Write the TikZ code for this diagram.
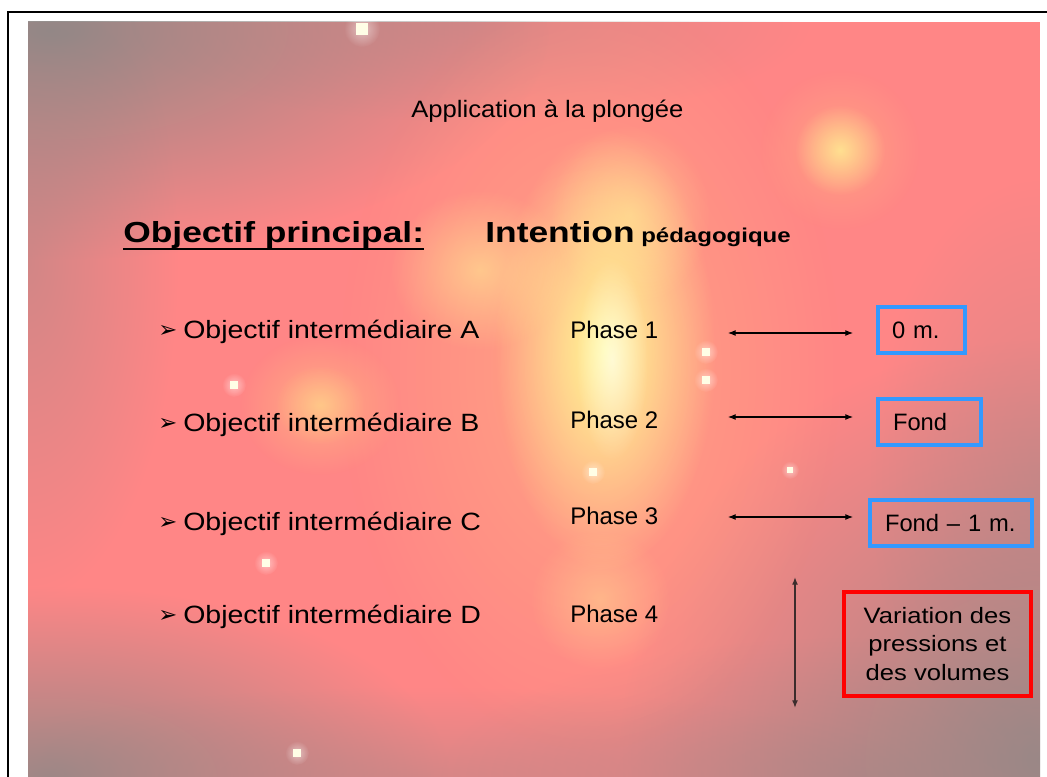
\documentclass[tikz,border=0pt]{standalone}
\usepackage{fontspec}
\setmainfont{Liberation Sans}
\newfontfamily\dejavu{DejaVu Sans}
\usetikzlibrary{arrows.meta,fadings,calc}
\tikzfading[name=glow, inner color=transparent!0, outer color=transparent!100]
\definecolor{bgpink}{RGB}{255,134,134}
\definecolor{bggray}{RGB}{142,136,134}
\definecolor{halo}{RGB}{255,188,128}
\definecolor{sun}{RGB}{255,250,150}
\definecolor{boxblue}{RGB}{51,153,255}
\definecolor{arrowgray}{RGB}{60,45,45}
\begin{document}
\begin{tikzpicture}[x=0.75pt,y=-0.75pt,
  lbl/.style={inner sep=0pt, anchor=base west, text=black},
  ttltxt/.style={lbl, font=\fontsize{17.8}{21}\selectfont, xscale=1.08},
  headtxt/.style={lbl, font=\bfseries\fontsize{21.75}{26}\selectfont, xscale=1.22},
  subheadtxt/.style={lbl, font=\bfseries\fontsize{15}{18}\selectfont, xscale=1.2},
  itemtxt/.style={lbl, font=\fontsize{18.75}{22}\selectfont, xscale=1.14},
  phasetxt/.style={lbl, font=\fontsize{18}{22}\selectfont},
  bul/.style={inner sep=0pt, anchor=base west, font=\dejavu\fontsize{17}{20}\selectfont},
  twoway/.style={{Latex[length=5.8pt,width=4.5pt]}-{Latex[length=5.8pt,width=4.5pt]}, line width=0.8pt},
  bluebox/.style={draw=boxblue, line width=3pt, inner ysep=0pt, align=left, minimum height=34.5pt, font=\fontsize{17.8}{21}\selectfont, anchor=center},
  redbox/.style={draw=red, line width=2.6pt, align=center, inner sep=0pt, font=\fontsize{16.7}{21.4}\selectfont, anchor=center},
  blob/.style={path fading=glow}
]
\useasboundingbox (0,0) rectangle (1047,777);
\fill[white] (0,0) rectangle (1047,777);
% ---- background photo ----
\begin{scope}
\clip (28,22) rectangle (1040,777);
\fill[bgpink] (28,22) rectangle (1040,777);
\fill[bggray, blob, opacity=0.95] (50,30) ellipse (500 and 230);
\fill[bggray, blob, opacity=0.4] (28,260) ellipse (150 and 340);
\fill[bggray, blob, opacity=0.3] (470,22) ellipse (340 and 100);
\fill[bggray, blob, opacity=0.85] (1040,760) ellipse (420 and 420);
\fill[bggray, blob, opacity=0.3] (1040,480) ellipse (170 and 300);
\fill[bggray, blob, opacity=0.85] (50,777) ellipse (400 and 190);
\fill[bggray, blob, opacity=0.35] (420,777) ellipse (500 and 90);
\fill[bggray, blob, opacity=0.4] (860,777) ellipse (420 and 140);
\fill[halo, blob, opacity=0.55] (590,370) ellipse (250 and 380);
\fill[sun, blob] (605,350) ellipse (110 and 220);
\fill[sun, blob, opacity=0.5] (480,270) ellipse (90 and 80);
\fill[sun, blob, opacity=0.45] (630,215) ellipse (80 and 90);
\fill[halo, blob, opacity=0.7] (320,405) ellipse (80 and 70);
\fill[sun, blob, opacity=0.35] (320,405) ellipse (45 and 40);
\fill[halo, blob, opacity=0.5] (840,150) ellipse (80 and 80);
\fill[sun, blob, opacity=0.7] (840,150) ellipse (45 and 45);
\fill[sun, blob, opacity=0.35] (600,600) ellipse (70 and 70);
\fill[white, blob, opacity=0.6] (612,360) ellipse (36 and 100);
\foreach \dx/\dy/\ds in {362/29/12, 706/352/8, 706/380/8, 234/385/8, 266/563/8, 593/472/8, 790/470/6, 297/753/8} {
  \pgfmathsetmacro\dr{1.5*\ds}
  \pgfmathsetmacro\dh{\ds/2}
  \fill[white, blob, opacity=0.5] (\dx,\dy) circle [radius=\dr];
  \fill[white!90!yellow] ({\dx-\dh},{\dy-\dh}) rectangle ({\dx+\dh},{\dy+\dh});
}
\end{scope}
\draw[line width=1.5pt] (1047,12) -- (8,12) -- (8,777);
% ---- texts ----
\node[ttltxt] (ttl) at (411,118) {Application à la plongée};
\node[headtxt] (hd) at (123,243) {Objectif principal:};
\draw[line width=2.2pt] ($(hd.base west)+(0,6)$) -- ($(hd.base east)+(0,6)$);
\node[headtxt] (int) at (485,243) {Intention};
\node[subheadtxt] (ped) at (641,243) {pédagogique};
\node[bul] (bA) at (158,338) {➢};
\node[bul] (bB) at (158,431) {➢};
\node[bul] (bC) at (158,529) {➢};
\node[bul] (bD) at (158,622) {➢};
\node[itemtxt] (oA) at (183,339) {Objectif intermédiaire A};
\node[itemtxt] (oB) at (183,432) {Objectif intermédiaire B};
\node[itemtxt] (oC) at (183,530) {Objectif intermédiaire C};
\node[itemtxt] (oD) at (183,623) {Objectif intermédiaire D};
\node[phasetxt] (p1) at (570,339) {Phase 1};
\node[phasetxt] (p2) at (570,429) {Phase 2};
\node[phasetxt] (p3) at (570,524) {Phase 3};
\node[phasetxt] (p4) at (570,622) {Phase 4};
% ---- boxes ----
\node[bluebox, minimum width=65.25pt, text width=44.25pt, inner xsep=10.5pt] (bx0) at (921.5,330) {0 m.};
\node[bluebox, minimum width=77.25pt, text width=54.75pt, inner xsep=11.25pt] (bx1) at (929.5,422) {Fond};
\node[bluebox, minimum width=121.5pt, text width=99pt, inner xsep=11.25pt] (bx2) at (951,523) {Fond – 1 m.};
\node[redbox, xscale=1.15, minimum width=121.96pt, minimum height=78pt] (vr) at (937.5,644) {Variation des\\pressions et\\des volumes};
% ---- arrows ----
\coordinate (aL) at (728,333); \coordinate (aR) at (853,333);
\coordinate (bL) at (728,417); \coordinate (bR) at (853,417);
\coordinate (cL) at (728,517); \coordinate (cR) at (853,517);
\coordinate (vT) at (795,577); \coordinate (vB) at (795,708);
\draw[twoway] (aL) -- (aR);
\draw[twoway] (bL) -- (bR);
\draw[twoway] (cL) -- (cR);
\draw[twoway, draw=arrowgray, fill=arrowgray, line width=1pt] (vT) -- (vB);
\end{tikzpicture}
\end{document}
